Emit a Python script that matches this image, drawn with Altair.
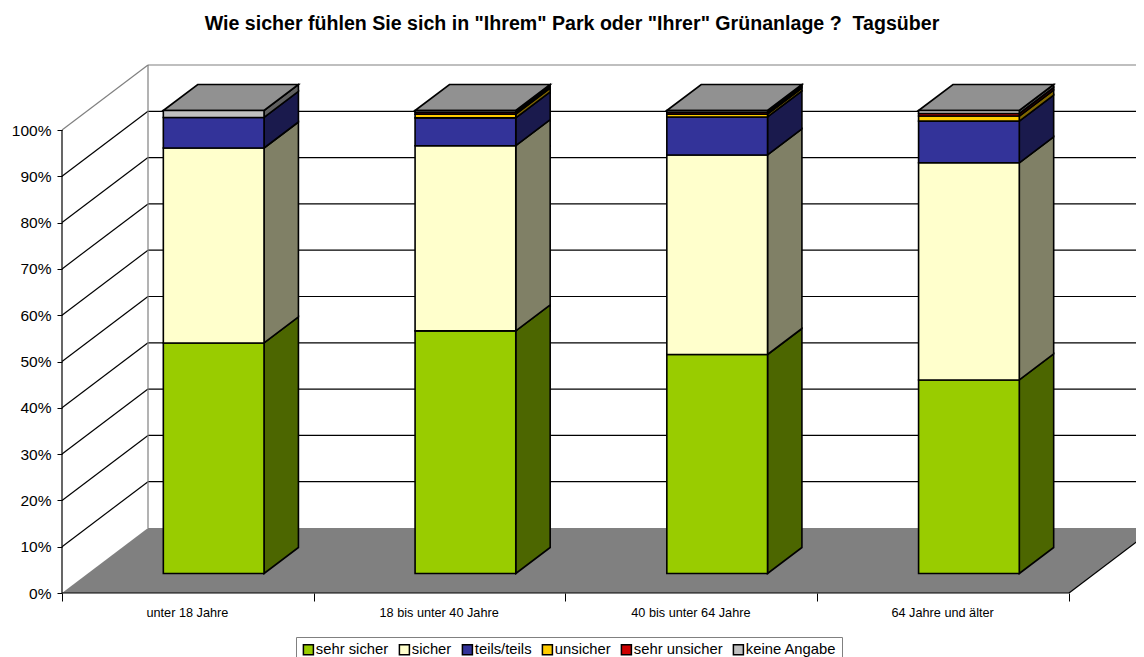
import json
import altair as alt
import pandas as pd

TITLE = 'Wie sicher fühlen Sie sich in "Ihrem" Park oder "Ihrer" Grünanlage ?\u00a0 Tagsüber'
groups = ["unter 18 Jahre", "18 bis unter 40 Jahre", "40 bis unter 64 Jahre", "64 Jahre und älter"]
series = ["sehr sicher", "sicher", "teils/teils", "unsicher", "sehr unsicher", "keine Angabe"]
colors = ["#99CC00", "#FFFFCC", "#333399", "#FFCC00", "#CC0000", "#C0C0C0"]
side_colors = ["#4C6600", "#808066", "#1A1A4D", "#806600", "#660000", "#606060"]
top_color = "#919191"
sehr_sicher = [49.8, 52.4, 47.3, 41.8]
sicher = [42.1, 40.0, 43.1, 46.9]
teils = [6.6, 6.0, 8.2, 9.0]
unsicher = [0.0, 0.8, 0.6, 1.1]
sehr_unsicher = [0.0, 0.4, 0.4, 0.55]
keine = [1.5, 0.4, 0.4, 0.65]
table = [sehr_sicher, sicher, teils, unsicher, sehr_unsicher, keine]
pct_ticks = list(range(0, 101, 10))

KX = 86 / 251.75
KY = 65 / 4.63
BAR0, BAR1 = 0.3, 0.7
BOTTOM_PAGE = 657
H = BOTTOM_PAGE - 48


def px(c, d):
    return c + KX * d


def py(p, d):
    return p + KY * d


x_scale = alt.Scale(domain=[-54 / 251.75, 1074 / 251.75], nice=False, zero=False)
y_scale = alt.Scale(domain=[(593 - BOTTOM_PAGE) / 4.63, 545 / 4.63], nice=False, zero=False)

lines = []
for p in pct_ticks:
    col = "#808080" if p == 100 else "#000000"
    if p > 0:
        lines += [dict(id=f"b{p}", x=px(0, 1), y=py(p, 1), col=col), dict(id=f"b{p}", x=px(4, 1), y=py(p, 1), col=col)]
        lines += [dict(id=f"l{p}", x=px(0, 0), y=py(p, 0), col=col), dict(id=f"l{p}", x=px(0, 1), y=py(p, 1), col=col)]
lines += [dict(id="v", x=px(0, 1), y=py(0, 1), col="#808080"), dict(id="v", x=px(0, 1), y=py(100, 1), col="#808080")]
front = [
    dict(id="ya", x=0, y=0, col="#000000"), dict(id="ya", x=0, y=100, col="#000000"),
    dict(id="xa", x=0, y=0, col="#000000"), dict(id="xa", x=4, y=0, col="#000000"),
    dict(id="fr", x=4, y=0, col="#000000"), dict(id="fr", x=px(4, 1), y=py(0, 1), col="#000000"),
]

floor = pd.DataFrame([
    dict(x=px(0, 0), y=py(0, 0), y2=py(0, 0)),
    dict(x=px(0, 1), y=py(0, 1), y2=py(0, 0)),
    dict(x=px(4, 0), y=py(0, 1), y2=py(0, 0)),
    dict(x=px(4, 1), y=py(0, 1), y2=py(0, 1)),
])

fronts, sides, tops = [], [], []
for g, name in enumerate(groups):
    base = 0.0
    x0, x1 = px(g + BAR0, BAR0), px(g + BAR1, BAR0)
    xb = px(g + BAR1, BAR1)
    for s, sname in enumerate(series):
        v = table[s][g]
        if v <= 0:
            continue
        top = base + v
        fronts.append(dict(x=x0, x2=x1, y=py(base, BAR0), y2=py(top, BAR0), serie=sname))
        fid = f"{g}-{s}"
        sides += [
            dict(id=fid, x=x1, y=py(base, BAR0), y2=py(top, BAR0), col=side_colors[s]),
            dict(id=fid, x=xb, y=py(base, BAR1), y2=py(top, BAR1), col=side_colors[s]),
        ]
        base = top
    d = KX * (BAR1 - BAR0)
    lo, hi = py(100, BAR0), py(100, BAR1)
    tops += [
        dict(id=g, x=x0, y=lo, y2=lo),
        dict(id=g, x=x0 + d, y=hi, y2=lo),
        dict(id=g, x=x1, y=hi, y2=lo),
        dict(id=g, x=x1 + d, y=hi, y2=hi),
    ]

FONT = "Liberation Sans"
y_axis = alt.Axis(values=pct_ticks, labelExpr="datum.value + '%'", offset=-54, domain=False, grid=False,
                  title=None, tickSize=5, tickColor="#000000", labelFont=FONT, labelFontSize=15.5,
                  labelColor="#000000", labelPadding=6, orient="left")
x_tick_axis = alt.Axis(values=[0, 1, 2, 3, 4], offset=-(BOTTOM_PAGE - 593), domain=False, grid=False, labels=False, title=None,
                       tickSize=8, tickColor="#000000", orient="bottom")
x_label_axis = alt.Axis(values=[0.5, 1.5, 2.5, 3.5], offset=-(BOTTOM_PAGE - 593), domain=False, grid=False, title=None, ticks=False,
                        labelExpr=f"{json.dumps(groups)}[floor(datum.value)]", labelFont=FONT, labelFontSize=12.7,
                        labelColor="#000000", labelPadding=13, labelOffset=-1, orient="bottom", labelOverlap=False)


def X(ax=None):
    return alt.X("x:Q", scale=x_scale, axis=ax)


Y = alt.Y("y:Q", scale=y_scale, axis=None)

grid_layer = alt.Chart(pd.DataFrame(lines)).mark_line(strokeWidth=1.2, clip=True).encode(
    x=X(x_tick_axis), y=alt.Y("y:Q", scale=y_scale, axis=y_axis),
    detail="id:N", stroke=alt.Stroke("col:N", scale=None))
floor_layer = alt.Chart(floor).mark_area(color="#808080", orient="vertical", clip=True).encode(
    x=X(x_label_axis), y=Y, y2="y2:Q")
front_layer = alt.Chart(pd.DataFrame(front)).mark_line(strokeWidth=1.2, clip=True).encode(
    x=X(), y=Y, detail="id:N", stroke=alt.Stroke("col:N", scale=None))
side_layer = alt.Chart(pd.DataFrame(sides)).mark_area(stroke="#000000", strokeWidth=1.6, orient="vertical").encode(
    x=X(), y=Y, y2="y2:Q", detail="id:N", fill=alt.Fill("col:N", scale=None))
top_layer = alt.Chart(pd.DataFrame(tops)).mark_area(stroke="#000000", strokeWidth=1.6, orient="vertical", fill=top_color).encode(
    x=X(), y=Y, y2="y2:Q", detail="id:N")
bar_layer = alt.Chart(pd.DataFrame(fronts)).mark_rect(stroke="#000000", strokeWidth=1.6).encode(
    x=X(), x2="x2:Q", y=Y, y2="y2:Q",
    color=alt.Color("serie:N", scale=alt.Scale(domain=series, range=colors), sort=series,
                    legend=alt.Legend(title=None, orient="none", legendX=288, legendY=589, columns=6, direction="horizontal",
                                      symbolType="square", symbolSize=100, symbolStrokeColor="#000000", symbolStrokeWidth=1.5,
                                      labelFont=FONT, labelFontSize=14.8, labelColor="#000000", labelOffset=0,
                                      strokeColor="#808080", fillColor="#FFFFFF", padding=5, columnPadding=7,
                                      labelLimit=200)))

chart = alt.layer(grid_layer, floor_layer, front_layer, side_layer, top_layer, bar_layer).resolve_axis(x="independent", y="independent").properties(
    width=1128, height=H,
    autosize=alt.AutoSizeParams(type="none"),
    padding={"left": 0, "right": 0, "top": 40, "bottom": 0},
    background="#FFFFFF",
    title=alt.TitleParams(TITLE, font=FONT, fontSize=19.6, fontWeight="bold", color="#000000", anchor="middle", dx=0, offset=13),
).configure_view(stroke=None)

chart.save("out.html", embed_options={"renderer": "svg", "actions": False})
